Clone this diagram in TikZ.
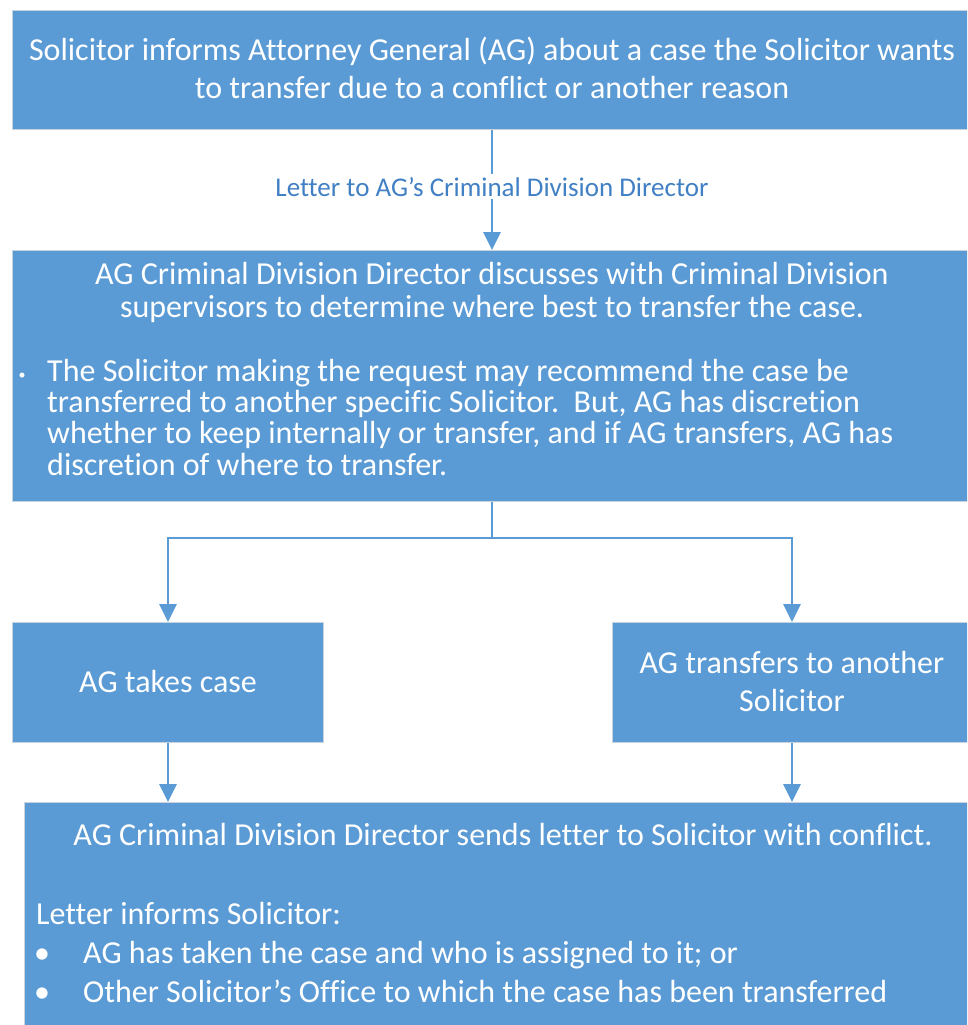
\documentclass[tikz,border=0pt]{standalone}
\usepackage{fontspec}
\setmainfont{Carlito}[Ligatures={NoCommon}]
\usetikzlibrary{arrows.meta}
\definecolor{boxblue}{HTML}{5B9BD5}
\definecolor{labelblue}{HTML}{4180C4}
\definecolor{boxedge}{HTML}{C9D3DE}
\begin{document}
\begin{tikzpicture}[x=1pt,y=-1pt,
  stepbox/.style={draw=boxedge, line width=1pt, fill=boxblue, inner sep=0pt, anchor=north west},
  txt/.style={text=white, font=\fontsize{32}{38}\selectfont, inner sep=0pt},
  flow/.style={draw=boxblue, line width=2.8pt, -{Triangle[width=17pt,length=18pt]}},
  link/.style={draw=boxblue, line width=2.8pt}]
\useasboundingbox (0,0) rectangle (967,1025);
\clip (0,0) rectangle (967,1025);

% boxes
\node[stepbox, minimum width=970, minimum height=119] (s1) at (12,10) {};
\node[stepbox, minimum width=970, minimum height=251] (s2) at (12,250) {};
\node[stepbox, minimum width=311, minimum height=120] (s3) at (12,622) {};
\node[stepbox, minimum width=370, minimum height=120] (s4) at (612,622) {};
\node[stepbox, minimum width=960, minimum height=240] (s5) at (24,802) {};

% column guides for the connectors
\coordinate (mid) at (492,0);
\coordinate (lcol) at (168,0);
\coordinate (rcol) at (792,0);
\coordinate (split) at (492,538);

% text of the first box
\node[txt, anchor=base] (t1a) at (492,60) {Solicitor informs Attorney General (AG) about a case the Solicitor wants};
\node[txt, anchor=base] (t1b) at (492,98) {to transfer due to a conflict or another reason};

% text of the second box
\node[txt, anchor=base] (t2a) at (492,284) {AG Criminal Division Director discusses with Criminal Division};
\node[txt, anchor=base] (t2b) at (492,317) {supervisors to determine where best to transfer the case.};
\node[text=white, font=\fontsize{14}{16}\selectfont, inner sep=0pt] (t2dot) at (22,376) {•};
\node[txt, anchor=base west] (t2c) at (47,381) {The Solicitor making the request may recommend the case be};
\node[txt, anchor=base west] (t2d) at (47,412) {transferred to another specific Solicitor.\ \ But, AG has discretion};
\node[txt, anchor=base west] (t2e) at (47,443) {whether to keep internally or transfer, and if AG transfers, AG has};
\node[txt, anchor=base west] (t2f) at (47,475) {discretion of where to transfer.};

% the two outcomes
\node[txt, anchor=base] (t3) at (168,692) {AG takes case};
\node[txt, anchor=base] (t4a) at (792,673) {AG transfers to another};
\node[txt, anchor=base] (t4b) at (792,711) {Solicitor};

% text of the last box
\node[txt, anchor=base] (t5a) at (503,845) {AG Criminal Division Director sends letter to Solicitor with conflict.};
\node[txt, anchor=base west] (t5b) at (36,924) {Letter informs Solicitor:};
\node[txt, anchor=base] (t5c) at (42,963) {•};
\node[txt, anchor=base west] (t5d) at (83,963) {AG has taken the case and who is assigned to it; or};
\node[txt, anchor=base] (t5e) at (42,1002) {•};
\node[txt, anchor=base west] (t5f) at (83,1002) {Other Solicitor’s Office to which the case has been transferred};

% connectors
\draw[flow] (s1.south -| mid) -- (s2.north -| mid);
\node[fill=white, text=labelblue, font=\fontsize{27}{31}\selectfont, inner sep=3pt, anchor=base] (lbl) at (492,196) {Letter to AG’s Criminal Division Director};
\draw[link] (s2.south -| mid) -- (split);
\draw[flow] (split) -| (s3.north -| lcol);
\draw[flow] (split) -| (s4.north -| rcol);
\draw[flow] (s3.south -| lcol) -- (s5.north -| lcol);
\draw[flow] (s4.south -| rcol) -- (s5.north -| rcol);
\end{tikzpicture}
\end{document}
